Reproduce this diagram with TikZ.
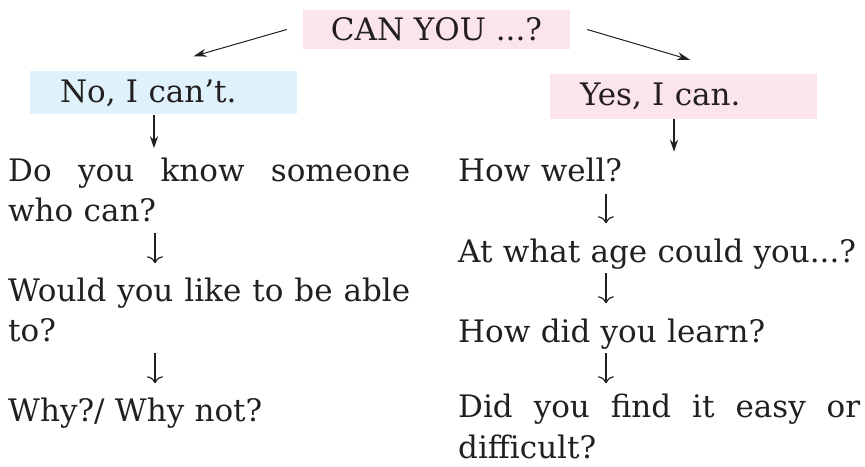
\documentclass[tikz,border=0pt]{standalone}
\usepackage{fontspec}
\setmainfont{DejaVu Serif}
\usetikzlibrary{arrows.meta}
\definecolor{canpink}{HTML}{FCE4EF}
\definecolor{noblue}{HTML}{DFF1FB}
\definecolor{ink}{HTML}{231F20}
\newcommand\spreadline[1]{\makebox[402pt][s]{\spaceskip=0pt\relax #1}}

\begin{document}
\begin{tikzpicture}[x=1pt,y=1pt,font=\fontsize{31}{40}\selectfont,text=ink]
\useasboundingbox (0,0) rectangle (865,466);
\tikzstyle{answer}=[inner xsep=30pt,inner ysep=0pt,text width=207pt,minimum height=43pt,align=left];
\tikzstyle{item}=[anchor=base west,inner sep=0pt,text width=402pt,align=left];
\tikzstyle{split}=[draw=ink,line width=1pt,-{Stealth[length=13pt,width=8pt]}];
\tikzstyle{down}=[draw=ink,line width=1.2pt,-{Stealth[length=12pt,width=8pt]}];
\tikzstyle{glyph}=[draw=ink,line width=1.2pt,-{To[length=7pt,width=16pt]}];
% question and the two answers
\node[fill=canpink,minimum width=267pt,minimum height=39pt,inner sep=0pt] (Q)at(436.5,436.5) {CAN YOU ...?};
\node[answer,fill=noblue] (No)at(163.5,373) {No, I can't.};
\node[answer,fill=canpink,minimum height=45pt] (Yes)at(683.5,369.5) {Yes, I can.};
% follow-up questions
\node[item] (D1)at(8,284) {\spreadline{Do you know someone}\\who can?};
\node[item] (D2)at(8,164) {\spreadline{Would you like to be able}\\to?};
\node[item] (D3)at(8,44) {Why?/ Why not?};
\node[item] (E1)at(458,284) {How well?};
\node[item] (E2)at(458,203) {At what age could you...?};
\node[item] (E3)at(458,123) {How did you learn?};
\node[item] (E4)at(458,48) {\spreadline{Did you find it easy or}\\difficult?};
\draw[split] ([xshift=-16pt]Q.west) -- ([xshift=30pt,yshift=15pt]No.north);
\draw[split] ([xshift=17pt]Q.east) -- ([xshift=6.5pt,yshift=14pt]Yes.north);
\draw[down] ([xshift=-9.5pt]No.south) -- ([xshift=146pt,yshift=10pt]D1.north west);
\draw[down] ([xshift=-9.5pt]Yes.south) -- ([xshift=216pt,yshift=6.5pt]E1.north west);
\draw[glyph,shorten <=10pt,shorten >=15pt] ([xshift=147pt]D1.south west) -- ([xshift=147pt]D2.north west);
\draw[glyph,shorten <=10pt,shorten >=15pt] ([xshift=147pt]D2.south west) -- ([xshift=147pt]D3.north west);
\draw[glyph,shorten <=11pt,shorten >=16pt] ([xshift=148pt]E1.south west) -- ([xshift=148pt]E2.north west);
\draw[glyph,shorten <=3pt,shorten >=16pt] ([xshift=148pt]E2.south west) -- ([xshift=148pt]E3.north west);
\draw[glyph,shorten <=3pt,shorten >=11pt] ([xshift=148pt]E3.south west) -- ([xshift=148pt]E4.north west);
\end{tikzpicture}
\end{document}
